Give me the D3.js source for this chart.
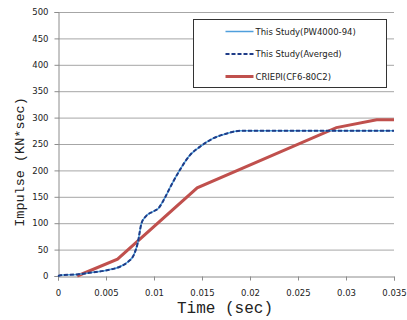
<!DOCTYPE html>
<html>
<head>
<meta charset="utf-8">
<script src="https://cdn.jsdelivr.net/npm/d3@7"></script>
<style>
  body { margin: 0; background: #fff; }
  .tick text { font-family: "DejaVu Sans", Verdana, sans-serif; font-size: 8.5px; fill: #222; }
  .axis-title { font-family: "Liberation Mono", "Courier New", monospace; fill: #222; }
</style>
</head>
<body>
<div id="chart"></div>
<script>
// PW4000-94 simulation (solid) and its averaged curve (dashed)
const studyTime = [0, 0.00055, 0.00195, 0.0033, 0.0051, 0.0065, 0.0073, 0.0079, 0.0083, 0.0087, 0.0092, 0.0099, 0.01045, 0.0111, 0.0118, 0.0127, 0.01375, 0.0148, 0.0162, 0.0176, 0.019, 0.035];
const studyImpulse = [0, 2, 3, 6, 11, 18, 27, 40, 62, 100, 114, 122, 128, 147, 172, 201, 229, 245, 261, 270, 275, 275];
const avgImpulse = [0, 2, 3, 6, 11, 18, 27, 40, 62, 100, 114, 122, 128, 147, 172, 201, 229, 245, 261, 270, 275, 275];
// CRIEPI (CF6-80C2)
const criepiTime = [0.002, 0.0062, 0.0145, 0.029, 0.0332, 0.035];
const criepiImpulse = [0, 32, 167, 281, 296, 296];

const xTicks = [0, 0.005, 0.01, 0.015, 0.02, 0.025, 0.03, 0.035];
const yTicks = [0, 50, 100, 150, 200, 250, 300, 350, 400, 450, 500];
const seriesNames = ['This Study(PW4000-94)', 'This Study(Averged)', 'CRIEPI(CF6-80C2)'];

const W = 407, H = 320;
const margin = { top: 12, right: 13, bottom: 44, left: 58 };
const width = W - margin.left - margin.right;
const height = H - margin.top - margin.bottom;

const svg = d3.select('#chart').append('svg')
  .attr('width', W).attr('height', H);

const chart = svg.append('g')
  .attr('transform', 'translate(' + margin.left + ',' + margin.top + ')');

const x = d3.scaleLinear().domain([0, 0.035]).range([0, width]);
const y = d3.scaleLinear().domain([0, 500]).range([height, 0]);

// horizontal grid lines
chart.selectAll('line.grid')
  .data(yTicks.slice(1))
  .enter()
  .append('line')
  .attr('class', 'grid')
  .attr('x1', 0).attr('x2', width)
  .attr('y1', d => y(d) + 0.5).attr('y2', d => y(d) + 0.5)
  .attr('stroke', '#a6a6a6');

// axes
const xAxis = chart.append('g')
  .attr('transform', 'translate(0,' + (height + 0.5) + ')')
  .call(d3.axisBottom(x).tickValues(xTicks).tickSize(4).tickPadding(9)
    .tickFormat(d => d === 0 ? '0' : String(+d.toFixed(3))));

const yAxis = chart.append('g')
  .attr('transform', 'translate(0.5,0)')
  .call(d3.axisLeft(y).tickValues(yTicks).tickSize(4).tickPadding(6));

[xAxis, yAxis].forEach(a => {
  a.select('.domain').attr('stroke', '#8c8c8c');
  a.selectAll('.tick line').attr('stroke', '#8c8c8c');
});

// lines
const line = d3.line().curve(d3.curveMonotoneX);
const studyPts = studyTime.map((t, i) => [x(t), y(studyImpulse[i])]);
const avgPts = studyTime.map((t, i) => [x(t), y(avgImpulse[i])]);
const criepiPts = criepiTime.map((t, i) => [x(t), y(criepiImpulse[i])]);

chart.append('path')
  .attr('d', d3.line()(criepiPts))
  .attr('fill', 'none')
  .attr('stroke', '#c0504d')
  .attr('stroke-width', 3);

chart.append('path')
  .attr('d', line(studyPts))
  .attr('fill', 'none')
  .attr('stroke', '#4f9fdc')
  .attr('stroke-width', 1.5);

chart.append('path')
  .attr('d', line(avgPts))
  .attr('fill', 'none')
  .attr('stroke', '#1f3c88')
  .attr('stroke-width', 2)
  .attr('stroke-dasharray', '4,2');

// axis titles
svg.append('text')
  .attr('class', 'axis-title')
  .attr('x', 225).attr('y', 313)
  .attr('text-anchor', 'middle')
  .style('font-size', '16px')
  .text('Time (sec)');

svg.append('text')
  .attr('class', 'axis-title')
  .attr('transform', 'translate(24,162) rotate(-90)')
  .attr('text-anchor', 'middle')
  .style('font-size', '13.5px')
  .text('Impulse (KN*sec)');

// legend
const legend = svg.append('g').attr('transform', 'translate(193.5,19.5)');
legend.append('rect')
  .attr('width', 193).attr('height', 68)
  .attr('fill', '#fff').attr('stroke', '#333');

const legendStyles = [
  { stroke: '#4f9fdc', width: 1.5, dash: null },
  { stroke: '#1f3c88', width: 2, dash: '4,2' },
  { stroke: '#c0504d', width: 3, dash: null }
];

const item = legend.selectAll('g.item')
  .data(seriesNames)
  .enter()
  .append('g')
  .attr('class', 'item')
  .attr('transform', (d, i) => 'translate(0,' + (12 + i * 22.5) + ')');

item.append('line')
  .attr('x1', 32).attr('x2', 60)
  .attr('stroke', (d, i) => legendStyles[i].stroke)
  .attr('stroke-width', (d, i) => legendStyles[i].width)
  .attr('stroke-dasharray', (d, i) => legendStyles[i].dash);

item.append('text')
  .attr('x', 62).attr('y', 3)
  .style('font-family', '"DejaVu Sans", Verdana, sans-serif')
  .style('font-size', '8.5px')
  .style('fill', '#222')
  .text(d => d);
</script>
</body>
</html>
